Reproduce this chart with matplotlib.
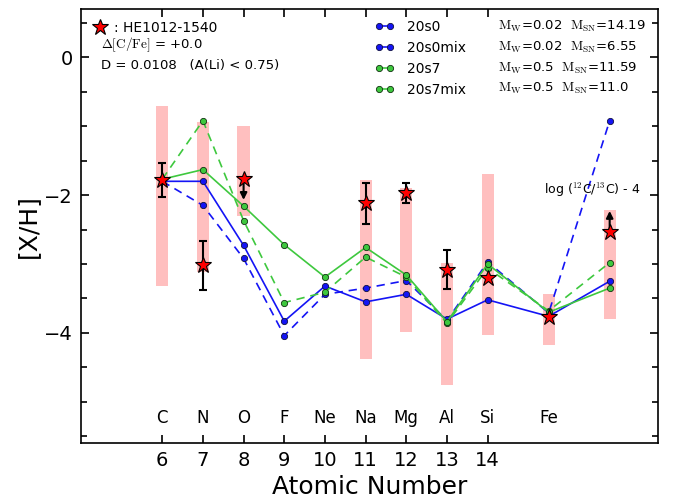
import matplotlib
matplotlib.use('Agg')
import matplotlib.pyplot as plt
import numpy as np

plt.rcParams['font.family'] = 'DejaVu Sans'
plt.rcParams['mathtext.fontset'] = 'cm'

# element positions (Fe and 12C/13C moved to fit on the plot)
zz = [6, 7, 8, 9, 10, 11, 12, 13, 14, 15.5, 17]
elem_names = ['C', 'N', 'O', 'F', 'Ne', 'Na', 'Mg', 'Al', 'Si', 'Fe']
elem_pos = [6, 7, 8, 9, 10, 11, 12, 13, 14, 15.5]

# models
s0 = [-1.80, -2.15, -2.92, -4.04, -3.44, -3.35, -3.24, -3.82, -2.97, -3.71, -0.92]
s0mix = [-1.80, -1.80, -2.73, -3.83, -3.32, -3.55, -3.44, -3.80, -3.52, -3.76, -3.25]
s7 = [-1.77, -0.92, -2.37, -3.56, -3.41, -2.90, -3.19, -3.86, -3.06, -3.68, -2.98]
s7mix = [-1.77, -1.63, -2.16, -2.72, -3.19, -2.76, -3.16, -3.84, -3.00, -3.70, -3.35]
mw = ['0.02', '0.02', '0.5', '0.5']
msn = ['14.19', '6.55', '11.59', '11.0']

# observations
obs_x = [6, 7, 8, 11, 12, 13, 14, 15.5, 17]
obs_y = [-1.78, -3.02, -1.77, -2.12, -1.97, -3.08, -3.21, -3.77, -2.53]
obs_err = [0.25, 0.36, 0.0, 0.30, 0.15, 0.29, 0.0, 0.0, 0.0]
uplim_x, uplim_y = 8, -1.77
lolim_x, lolim_y = 17, -2.53
lim_len = 0.30

# pink range bars
bar_top = [-0.71, -0.94, -0.99, -1.78, -1.89, -2.99, -1.69, -3.43, -2.21]
bar_bot = [-3.32, -3.12, -2.30, -4.38, -3.99, -4.76, -4.03, -4.18, -3.80]

fig = plt.figure(figsize=(6.74, 5.03), dpi=100)
ax = fig.add_axes([0.120, 0.119, 0.857, 0.863])

bt = np.array(bar_top)
bb = np.array(bar_bot)
ax.bar(obs_x, bt - bb, bottom=bb, width=0.3, color='red', alpha=0.25, lw=0, zorder=1)

blue = '#1414f5'
green = '#3ec83e'
dsh = (5, 3.5)
l1, = ax.plot(zz, s0, '--', dashes=dsh, color=blue, lw=1.2, marker='o', ms=4.5, mfc=blue, mec='#101040', mew=0.6, zorder=3, label='20s0')
l2, = ax.plot(zz, s0mix, '-', color=blue, lw=1.2, marker='o', ms=4.5, mfc=blue, mec='#101040', mew=0.6, zorder=3, label='20s0mix')
l3, = ax.plot(zz, s7, '--', dashes=dsh, color=green, lw=1.2, marker='o', ms=4.5, mfc=green, mec='#103010', mew=0.6, zorder=3, label='20s7')
l4, = ax.plot(zz, s7mix, '-', color=green, lw=1.2, marker='o', ms=4.5, mfc=green, mec='#103010', mew=0.6, zorder=3, label='20s7mix')

ex = [x for x, e in zip(obs_x, obs_err) if e > 0]
ey = [y for y, e in zip(obs_y, obs_err) if e > 0]
ee = [e for e in obs_err if e > 0]
ax.errorbar(ex, ey, yerr=ee, fmt='none', ecolor='k', elinewidth=1.5, capsize=3, capthick=1.5, zorder=4)
ax.annotate('', xy=(uplim_x, uplim_y - lim_len), xytext=(uplim_x, uplim_y),
            arrowprops=dict(arrowstyle='-|>', color='k', lw=1.5, shrinkA=0, shrinkB=0, mutation_scale=10), zorder=4)
ax.annotate('', xy=(lolim_x, lolim_y + lim_len), xytext=(lolim_x, lolim_y),
            arrowprops=dict(arrowstyle='-|>', color='k', lw=1.5, shrinkA=0, shrinkB=0, mutation_scale=10), zorder=4)
star, = ax.plot(obs_x, obs_y, ls='none', marker='*', ms=12, mfc='red', mec='k', mew=0.8, zorder=5,
                label=': HE1012-1540')

for n, p in zip(elem_names, elem_pos):
    ax.text(p, -5.23, n, ha='center', va='center', fontsize=12)

ax.text(16.57, -1.92, r'log ($^{12}$C/$^{13}$C) - 4', ha='center', va='center', fontsize=9)

ax.set_xlim(4, 18.2)
ax.set_ylim(-5.6, 0.7)
ax.set_xticks(range(6, 15))
ax.set_yticks([0, -2, -4])
ax.set_yticks(np.arange(-5.5, 0.75, 0.5), minor=True)
ax.tick_params(which='both', direction='in', top=True, right=True, width=1.2)
ax.tick_params(which='major', length=6, labelsize=14, pad=6)
ax.tick_params(which='minor', length=4)
for s in ax.spines.values():
    s.set_linewidth(1.2)
ax.set_xlabel('Atomic Number', fontsize=18, labelpad=3)
ax.set_ylabel('[X/H]', fontsize=18, labelpad=3)

leg1 = ax.legend(handles=[star], loc='upper left', bbox_to_anchor=(0.0, 1.0), frameon=False,
                 fontsize=10, handlelength=1.0, handletextpad=0.55, borderaxespad=0.45)
ax.add_artist(leg1)
ax.text(0.035, 0.917, r'$\Delta[\mathrm{C/Fe}]$ = +0.0', transform=ax.transAxes, fontsize=9.5, va='center')
ax.text(0.035, 0.871, 'D = 0.0108   (A(Li) < 0.75)', transform=ax.transAxes, fontsize=9.5, va='center')

ax.legend(handles=[l1, l2, l3, l4], loc='upper left', bbox_to_anchor=(0.49, 1.0), frameon=False,
          fontsize=10, numpoints=2, handlelength=1.4, handletextpad=0.9, labelspacing=0.5,
          borderaxespad=0.4)
rows_y = [0.961, 0.912, 0.864, 0.818]
for yy, a, b in zip(rows_y, mw, msn):
    ax.text(0.722, yy, r'$\mathrm{M_W}$=' + a + r'  $\mathrm{M_{SN}}$=' + b, transform=ax.transAxes,
            fontsize=9.5, va='center')

fig.savefig('out.png', dpi=100)
